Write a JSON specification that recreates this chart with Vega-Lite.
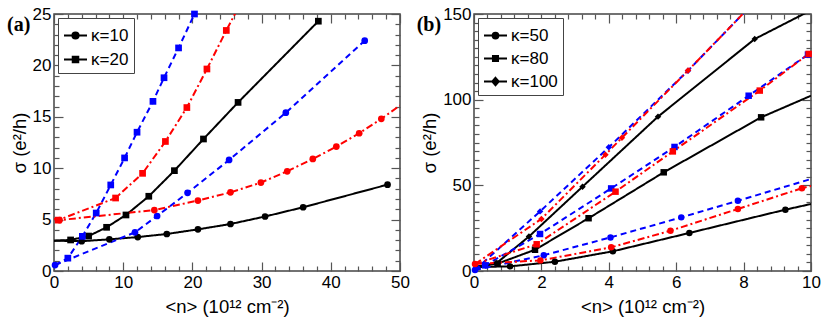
{
  "$schema": "https://vega.github.io/schema/vega-lite/v6.json",
  "padding": {"left": 6, "top": 4, "right": 4, "bottom": 2},
  "spacing": 4,
  "config": {
    "font": "Liberation Sans",
    "view": {"stroke": "#444", "strokeWidth": 1.5},
    "axis": {"grid": false, "domain": false, "tickColor": "#555", "tickWidth": 1.2, "labelFontSize": 17, "titleFontSize": 18.5, "titleFontWeight": "normal", "labelColor": "black", "titleColor": "black", "labelFlush": false, "labelOverlap": false, "labelBound": false}
  },
  "datasets": {
    "a": [
      {"s":"S1","k":"κ=10","x":0,"y":2.95,"m":0},
      {"s":"S1","k":"κ=10","x":4.0,"y":2.9,"m":1},
      {"s":"S1","k":"κ=10","x":8.0,"y":3.08,"m":1},
      {"s":"S1","k":"κ=10","x":12.1,"y":3.3,"m":1},
      {"s":"S1","k":"κ=10","x":16.3,"y":3.6,"m":1},
      {"s":"S1","k":"κ=10","x":20.8,"y":4.05,"m":1},
      {"s":"S1","k":"κ=10","x":25.5,"y":4.57,"m":1},
      {"s":"S1","k":"κ=10","x":30.5,"y":5.3,"m":1},
      {"s":"S1","k":"κ=10","x":36.0,"y":6.2,"m":1},
      {"s":"S1","k":"κ=10","x":48.2,"y":8.4,"m":1},
      {"s":"S1","k":"κ=20","x":0,"y":2.95,"m":0},
      {"s":"S1","k":"κ=20","x":2.4,"y":3.02,"m":1},
      {"s":"S1","k":"κ=20","x":5.0,"y":3.4,"m":1},
      {"s":"S1","k":"κ=20","x":7.6,"y":4.25,"m":1},
      {"s":"S1","k":"κ=20","x":10.4,"y":5.45,"m":1},
      {"s":"S1","k":"κ=20","x":13.7,"y":7.27,"m":1},
      {"s":"S1","k":"κ=20","x":17.4,"y":9.76,"m":1},
      {"s":"S1","k":"κ=20","x":21.6,"y":12.84,"m":1},
      {"s":"S1","k":"κ=20","x":26.6,"y":16.4,"m":1},
      {"s":"S1","k":"κ=20","x":38.2,"y":24.3,"m":1},
      {"s":"S2","k":"κ=10","x":0.15,"y":0.58,"m":1},
      {"s":"S2","k":"κ=10","x":11.7,"y":3.76,"m":1},
      {"s":"S2","k":"κ=10","x":14.9,"y":5.35,"m":1},
      {"s":"S2","k":"κ=10","x":19.3,"y":7.6,"m":1},
      {"s":"S2","k":"κ=10","x":25.3,"y":10.8,"m":1},
      {"s":"S2","k":"κ=10","x":33.5,"y":15.4,"m":1},
      {"s":"S2","k":"κ=10","x":44.9,"y":22.4,"m":1},
      {"s":"S2","k":"κ=20","x":0.15,"y":0.58,"m":0},
      {"s":"S2","k":"κ=20","x":2.0,"y":1.25,"m":1},
      {"s":"S2","k":"κ=20","x":4.1,"y":3.37,"m":1},
      {"s":"S2","k":"κ=20","x":6.1,"y":5.64,"m":1},
      {"s":"S2","k":"κ=20","x":8.2,"y":8.37,"m":1},
      {"s":"S2","k":"κ=20","x":10.2,"y":11.0,"m":1},
      {"s":"S2","k":"κ=20","x":12.0,"y":13.5,"m":1},
      {"s":"S2","k":"κ=20","x":14.3,"y":16.5,"m":1},
      {"s":"S2","k":"κ=20","x":15.9,"y":18.8,"m":1},
      {"s":"S2","k":"κ=20","x":18.0,"y":21.7,"m":1},
      {"s":"S2","k":"κ=20","x":20.3,"y":25.0,"m":1},
      {"s":"S3","k":"κ=10","x":0,"y":5.05,"m":0},
      {"s":"S3","k":"κ=10","x":0.8,"y":4.95,"m":1},
      {"s":"S3","k":"κ=10","x":14.5,"y":5.93,"m":1},
      {"s":"S3","k":"κ=10","x":20.8,"y":6.85,"m":1},
      {"s":"S3","k":"κ=10","x":25.5,"y":7.65,"m":1},
      {"s":"S3","k":"κ=10","x":29.9,"y":8.6,"m":1},
      {"s":"S3","k":"κ=10","x":33.7,"y":9.7,"m":1},
      {"s":"S3","k":"κ=10","x":37.4,"y":10.9,"m":1},
      {"s":"S3","k":"κ=10","x":40.8,"y":12.1,"m":1},
      {"s":"S3","k":"κ=10","x":44.1,"y":13.4,"m":1},
      {"s":"S3","k":"κ=10","x":47.3,"y":14.8,"m":1},
      {"s":"S3","k":"κ=10","x":50,"y":16.1,"m":0},
      {"s":"S3","k":"κ=20","x":0,"y":5.05,"m":0},
      {"s":"S3","k":"κ=20","x":0.6,"y":4.95,"m":1},
      {"s":"S3","k":"κ=20","x":8.9,"y":7.1,"m":1},
      {"s":"S3","k":"κ=20","x":12.8,"y":9.5,"m":1},
      {"s":"S3","k":"κ=20","x":16.1,"y":12.6,"m":1},
      {"s":"S3","k":"κ=20","x":19.2,"y":15.9,"m":1},
      {"s":"S3","k":"κ=20","x":22.1,"y":19.65,"m":1},
      {"s":"S3","k":"κ=20","x":24.9,"y":23.4,"m":1},
      {"s":"S3","k":"κ=20","x":26.3,"y":25.2,"m":0}
    ],
    "b": [
      {"s":"S1","k":"κ=50","x":0,"y":2.3,"m":0},
      {"s":"S1","k":"κ=50","x":1.07,"y":2.7,"m":1},
      {"s":"S1","k":"κ=50","x":2.4,"y":5.4,"m":1},
      {"s":"S1","k":"κ=50","x":4.12,"y":11.5,"m":1},
      {"s":"S1","k":"κ=50","x":6.39,"y":22.2,"m":1},
      {"s":"S1","k":"κ=50","x":9.24,"y":35.8,"m":1},
      {"s":"S1","k":"κ=50","x":10,"y":39.1,"m":0},
      {"s":"S1","k":"κ=80","x":0,"y":2.3,"m":0},
      {"s":"S1","k":"κ=80","x":0.7,"y":4.3,"m":1},
      {"s":"S1","k":"κ=80","x":1.81,"y":12.4,"m":1},
      {"s":"S1","k":"κ=80","x":3.4,"y":30.8,"m":1},
      {"s":"S1","k":"κ=80","x":5.63,"y":57.6,"m":1},
      {"s":"S1","k":"κ=80","x":8.52,"y":89.7,"m":1},
      {"s":"S1","k":"κ=80","x":10,"y":102.3,"m":0},
      {"s":"S1","k":"κ=100","x":0,"y":2.3,"m":0},
      {"s":"S1","k":"κ=100","x":0.67,"y":4.6,"m":1},
      {"s":"S1","k":"κ=100","x":1.63,"y":20.1,"m":1},
      {"s":"S1","k":"κ=100","x":3.22,"y":49.2,"m":1},
      {"s":"S1","k":"κ=100","x":5.46,"y":90.1,"m":1},
      {"s":"S1","k":"κ=100","x":8.33,"y":135.4,"m":1},
      {"s":"S1","k":"κ=100","x":10,"y":152.2,"m":0},
      {"s":"S2","k":"κ=50","x":0.03,"y":0.6,"m":1},
      {"s":"S2","k":"κ=50","x":2.07,"y":9.2,"m":1},
      {"s":"S2","k":"κ=50","x":4.05,"y":19.6,"m":1},
      {"s":"S2","k":"κ=50","x":6.15,"y":31.3,"m":1},
      {"s":"S2","k":"κ=50","x":7.83,"y":41.0,"m":1},
      {"s":"S2","k":"κ=50","x":10,"y":53.7,"m":0},
      {"s":"S2","k":"κ=80","x":0.03,"y":0.6,"m":0},
      {"s":"S2","k":"κ=80","x":0.33,"y":3.3,"m":1},
      {"s":"S2","k":"κ=80","x":1.96,"y":21.6,"m":1},
      {"s":"S2","k":"κ=80","x":4.07,"y":48.2,"m":1},
      {"s":"S2","k":"κ=80","x":5.95,"y":72.4,"m":1},
      {"s":"S2","k":"κ=80","x":8.15,"y":102.3,"m":1},
      {"s":"S2","k":"κ=80","x":9.91,"y":126.3,"m":1},
      {"s":"S2","k":"κ=80","x":10,"y":127.5,"m":0},
      {"s":"S2","k":"κ=100","x":0.03,"y":0.6,"m":0},
      {"s":"S2","k":"κ=100","x":1.96,"y":34.8,"m":1},
      {"s":"S2","k":"κ=100","x":4.0,"y":72.2,"m":1},
      {"s":"S2","k":"κ=100","x":6.35,"y":116.9,"m":1},
      {"s":"S2","k":"κ=100","x":8.05,"y":151.5,"m":0},
      {"s":"S3","k":"κ=50","x":0.03,"y":4.1,"m":1},
      {"s":"S3","k":"κ=50","x":1.97,"y":6.2,"m":1},
      {"s":"S3","k":"κ=50","x":4.07,"y":13.8,"m":1},
      {"s":"S3","k":"κ=50","x":5.83,"y":23.5,"m":1},
      {"s":"S3","k":"κ=50","x":7.83,"y":36.2,"m":1},
      {"s":"S3","k":"κ=50","x":9.73,"y":48.3,"m":1},
      {"s":"S3","k":"κ=50","x":10,"y":49.6,"m":0},
      {"s":"S3","k":"κ=80","x":0.03,"y":4.1,"m":0},
      {"s":"S3","k":"κ=80","x":1.86,"y":15.6,"m":1},
      {"s":"S3","k":"κ=80","x":4.2,"y":46.3,"m":1},
      {"s":"S3","k":"κ=80","x":5.9,"y":69.8,"m":1},
      {"s":"S3","k":"κ=80","x":8.48,"y":105.3,"m":1},
      {"s":"S3","k":"κ=80","x":9.93,"y":126.7,"m":1},
      {"s":"S3","k":"κ=80","x":10,"y":127.6,"m":0},
      {"s":"S3","k":"κ=100","x":0.03,"y":4.1,"m":0},
      {"s":"S3","k":"κ=100","x":2.0,"y":30.4,"m":1},
      {"s":"S3","k":"κ=100","x":3.9,"y":67.9,"m":1},
      {"s":"S3","k":"κ=100","x":4.39,"y":77.8,"m":1},
      {"s":"S3","k":"κ=100","x":6.35,"y":117.0,"m":1},
      {"s":"S3","k":"κ=100","x":8.05,"y":151.5,"m":0}
    ]
  },
  "hconcat": [
    {
      "width": 346, "height": 257,
      "data": {"name": "a"},
      "title": {"text": "(a)", "anchor": "start", "frame": "bounds", "orient": "top", "font": "Liberation Serif", "fontSize": 20, "fontWeight": "bold", "color": "black", "dx": -3, "dy": 30, "offset": 0},
      "layer": [
        {
          "mark": {"type": "line", "clip": true, "strokeWidth": 2},
          "encoding": {
            "x": {"field": "x", "type": "quantitative", "scale": {"domain": [0, 50], "nice": false, "zero": false},
              "axis": {"orient": "bottom", "values": [0,2,4,6,8,10,12,14,16,18,20,22,24,26,28,30,32,34,36,38,40,42,44,46,48,50], "labelExpr": "datum.value % 10 === 0 ? datum.label : ''", "tickSize": {"condition": {"test": "datum.value % 10 === 0", "value": -9}, "value": -5}, "labelPadding": 12, "title": "<n>  (10¹² cm⁻²)", "titlePadding": 3}},
            "y": {"field": "y", "type": "quantitative", "scale": {"domain": [0, 25], "nice": false, "zero": false},
              "axis": {"orient": "left", "values": [0,1,2,3,4,5,6,7,8,9,10,11,12,13,14,15,16,17,18,19,20,21,22,23,24,25], "labelExpr": "datum.value % 5 === 0 ? datum.label : ''", "tickSize": {"condition": {"test": "datum.value % 5 === 0", "value": -9}, "value": -5}, "labelPadding": 12, "title": "σ (e²/h)", "titlePadding": 3}},
            "color": {"field": "s", "type": "nominal", "scale": {"domain": ["S1","S2","S3"], "range": ["black","#0000ff","#ff0000"]}, "legend": null},
            "strokeDash": {"field": "s", "type": "nominal", "scale": {"domain": ["S1","S2","S3"], "range": [[1,0],[6,4],[7,3,2,3]]}, "legend": null},
            "detail": {"field": "k"}
          }
        },
        {
          "transform": [{"filter": "datum.m == 1"}],
          "mark": {"type": "point", "filled": true, "size": 45, "opacity": 1},
          "encoding": {
            "x": {"field": "x", "type": "quantitative",
              "axis": {"orient": "top", "values": [0,2,4,6,8,10,12,14,16,18,20,22,24,26,28,30,32,34,36,38,40,42,44,46,48,50], "labels": false, "title": null, "tickSize": {"condition": {"test": "datum.value % 10 === 0", "value": -9}, "value": -5}}},
            "y": {"field": "y", "type": "quantitative",
              "axis": {"orient": "right", "values": [0,1,2,3,4,5,6,7,8,9,10,11,12,13,14,15,16,17,18,19,20,21,22,23,24,25], "labels": false, "title": null, "tickSize": {"condition": {"test": "datum.value % 5 === 0", "value": -9}, "value": -5}}},
            "color": {"field": "s", "type": "nominal", "legend": null},
            "shape": {"field": "k", "type": "nominal", "scale": {"domain": ["κ=10","κ=20"], "range": ["circle","square"]}, "legend": null}
          }
        },
        {
          "transform": [{"filter": "false"}],
          "mark": {"type": "point", "filled": false, "color": "black", "strokeWidth": 2, "opacity": 1},
          "encoding": {
            "x": {"field": "x", "type": "quantitative", "axis": null},
            "y": {"field": "y", "type": "quantitative", "axis": null},
            "shape": {"field": "k", "type": "nominal",
              "scale": {"domain": ["κ=10","κ=20"], "range": ["M-1,0H1M0.27,0A0.27,0.27,0,1,1,-0.27,0A0.27,0.27,0,1,1,0.27,0ZM0.14,0A0.14,0.14,0,1,1,-0.14,0A0.14,0.14,0,1,1,0.14,0ZM0.04,0A0.04,0.04,0,1,1,-0.04,0A0.04,0.04,0,1,1,0.04,0Z", "M-1,0H1M-0.24,-0.24H0.24V0.24H-0.24ZM-0.12,-0.12H0.12V0.12H-0.12ZM-0.03,-0.03H0.03V0.03H-0.03Z"]},
              "legend": {"title": null, "orient": "top-left", "offset": 4, "padding": 5, "strokeColor": "#444", "fillColor": "white", "labelFontSize": 17, "labelFont": "Liberation Sans", "labelColor": "black", "symbolSize": 529, "rowPadding": 3, "labelOffset": 3, "symbolStrokeColor": "black", "symbolStrokeWidth": 2, "symbolFillColor": "transparent",
                "encode": {"symbols": {"stroke": {"value": "black"}, "strokeWidth": {"value": 2}, "opacity": {"value": 1}}}}
            }
          }
        }
      ],
      "resolve": {"scale": {"shape": "independent"}, "axis": {"x": "independent", "y": "independent"}}
    },
    {
      "width": 337, "height": 257,
      "data": {"name": "b"},
      "title": {"text": "(b)", "anchor": "start", "frame": "bounds", "orient": "top", "font": "Liberation Serif", "fontSize": 20, "fontWeight": "bold", "color": "black", "dx": -4, "dy": 30, "offset": 0},
      "layer": [
        {
          "mark": {"type": "line", "clip": true, "strokeWidth": 2},
          "encoding": {
            "x": {"field": "x", "type": "quantitative", "scale": {"domain": [0, 10], "nice": false, "zero": false},
              "axis": {"orient": "bottom", "values": [0,0.4,0.8,1.2,1.6,2,2.4,2.8,3.2,3.6,4,4.4,4.8,5.2,5.6,6,6.4,6.8,7.2,7.6,8,8.4,8.8,9.2,9.6,10], "labelExpr": "abs(datum.value/2 - round(datum.value/2)) < 0.01 ? format(datum.value, 'd') : ''", "tickSize": {"condition": {"test": "abs(datum.value/2 - round(datum.value/2)) < 0.01", "value": -9}, "value": -5}, "labelPadding": 12, "title": "<n>  (10¹² cm⁻²)", "titlePadding": 3}},
            "y": {"field": "y", "type": "quantitative", "scale": {"domain": [0, 150], "nice": false, "zero": false},
              "axis": {"orient": "left", "values": [0,5,10,15,20,25,30,35,40,45,50,55,60,65,70,75,80,85,90,95,100,105,110,115,120,125,130,135,140,145,150], "labelExpr": "datum.value % 50 === 0 ? datum.label : ''", "tickSize": {"condition": {"test": "datum.value % 50 === 0", "value": -9}, "value": -5}, "labelPadding": 12, "title": "σ (e²/h)", "titlePadding": 3}},
            "color": {"field": "s", "type": "nominal", "scale": {"domain": ["S1","S2","S3"], "range": ["black","#0000ff","#ff0000"]}, "legend": null},
            "strokeDash": {"field": "s", "type": "nominal", "scale": {"domain": ["S1","S2","S3"], "range": [[1,0],[6,4],[7,3,2,3]]}, "legend": null},
            "detail": {"field": "k"}
          }
        },
        {
          "transform": [{"filter": "datum.m == 1"}],
          "mark": {"type": "point", "filled": true, "size": 42, "opacity": 1},
          "encoding": {
            "x": {"field": "x", "type": "quantitative",
              "axis": {"orient": "top", "values": [0,0.4,0.8,1.2,1.6,2,2.4,2.8,3.2,3.6,4,4.4,4.8,5.2,5.6,6,6.4,6.8,7.2,7.6,8,8.4,8.8,9.2,9.6,10], "labels": false, "title": null, "tickSize": {"condition": {"test": "abs(datum.value/2 - round(datum.value/2)) < 0.01", "value": -9}, "value": -5}}},
            "y": {"field": "y", "type": "quantitative",
              "axis": {"orient": "right", "values": [0,5,10,15,20,25,30,35,40,45,50,55,60,65,70,75,80,85,90,95,100,105,110,115,120,125,130,135,140,145,150], "labels": false, "title": null, "tickSize": {"condition": {"test": "datum.value % 50 === 0", "value": -9}, "value": -5}}},
            "color": {"field": "s", "type": "nominal", "legend": null},
            "shape": {"field": "k", "type": "nominal", "scale": {"domain": ["κ=50","κ=80","κ=100"], "range": ["circle","square","diamond"]}, "legend": null}
          }
        },
        {
          "transform": [{"filter": "false"}],
          "mark": {"type": "point", "filled": false, "color": "black", "strokeWidth": 2, "opacity": 1},
          "encoding": {
            "x": {"field": "x", "type": "quantitative", "axis": null},
            "y": {"field": "y", "type": "quantitative", "axis": null},
            "shape": {"field": "k", "type": "nominal",
              "scale": {"domain": ["κ=50","κ=80","κ=100"], "range": ["M-1,0H1M0.25,0A0.25,0.25,0,1,1,-0.25,0A0.25,0.25,0,1,1,0.25,0ZM0.13,0A0.13,0.13,0,1,1,-0.13,0A0.13,0.13,0,1,1,0.13,0ZM0.04,0A0.04,0.04,0,1,1,-0.04,0A0.04,0.04,0,1,1,0.04,0Z", "M-1,0H1M-0.22,-0.22H0.22V0.22H-0.22ZM-0.11,-0.11H0.11V0.11H-0.11ZM-0.03,-0.03H0.03V0.03H-0.03Z", "M-1,0H1M0,-0.32L0.28,0L0,0.32L-0.28,0ZM0,-0.16L0.14,0L0,0.16L-0.14,0ZM0,-0.04L0.04,0L0,0.04L-0.04,0Z"]},
              "legend": {"title": null, "orient": "top-left", "offset": 4, "padding": 5, "strokeColor": "#444", "fillColor": "white", "labelFontSize": 17, "labelFont": "Liberation Sans", "labelColor": "black", "symbolSize": 529, "rowPadding": 2, "labelOffset": 3, "symbolStrokeColor": "black", "symbolStrokeWidth": 2, "symbolFillColor": "transparent",
                "encode": {"symbols": {"stroke": {"value": "black"}, "strokeWidth": {"value": 2}, "opacity": {"value": 1}}}}
            }
          }
        }
      ],
      "resolve": {"scale": {"shape": "independent"}, "axis": {"x": "independent", "y": "independent"}}
    }
  ]
}
